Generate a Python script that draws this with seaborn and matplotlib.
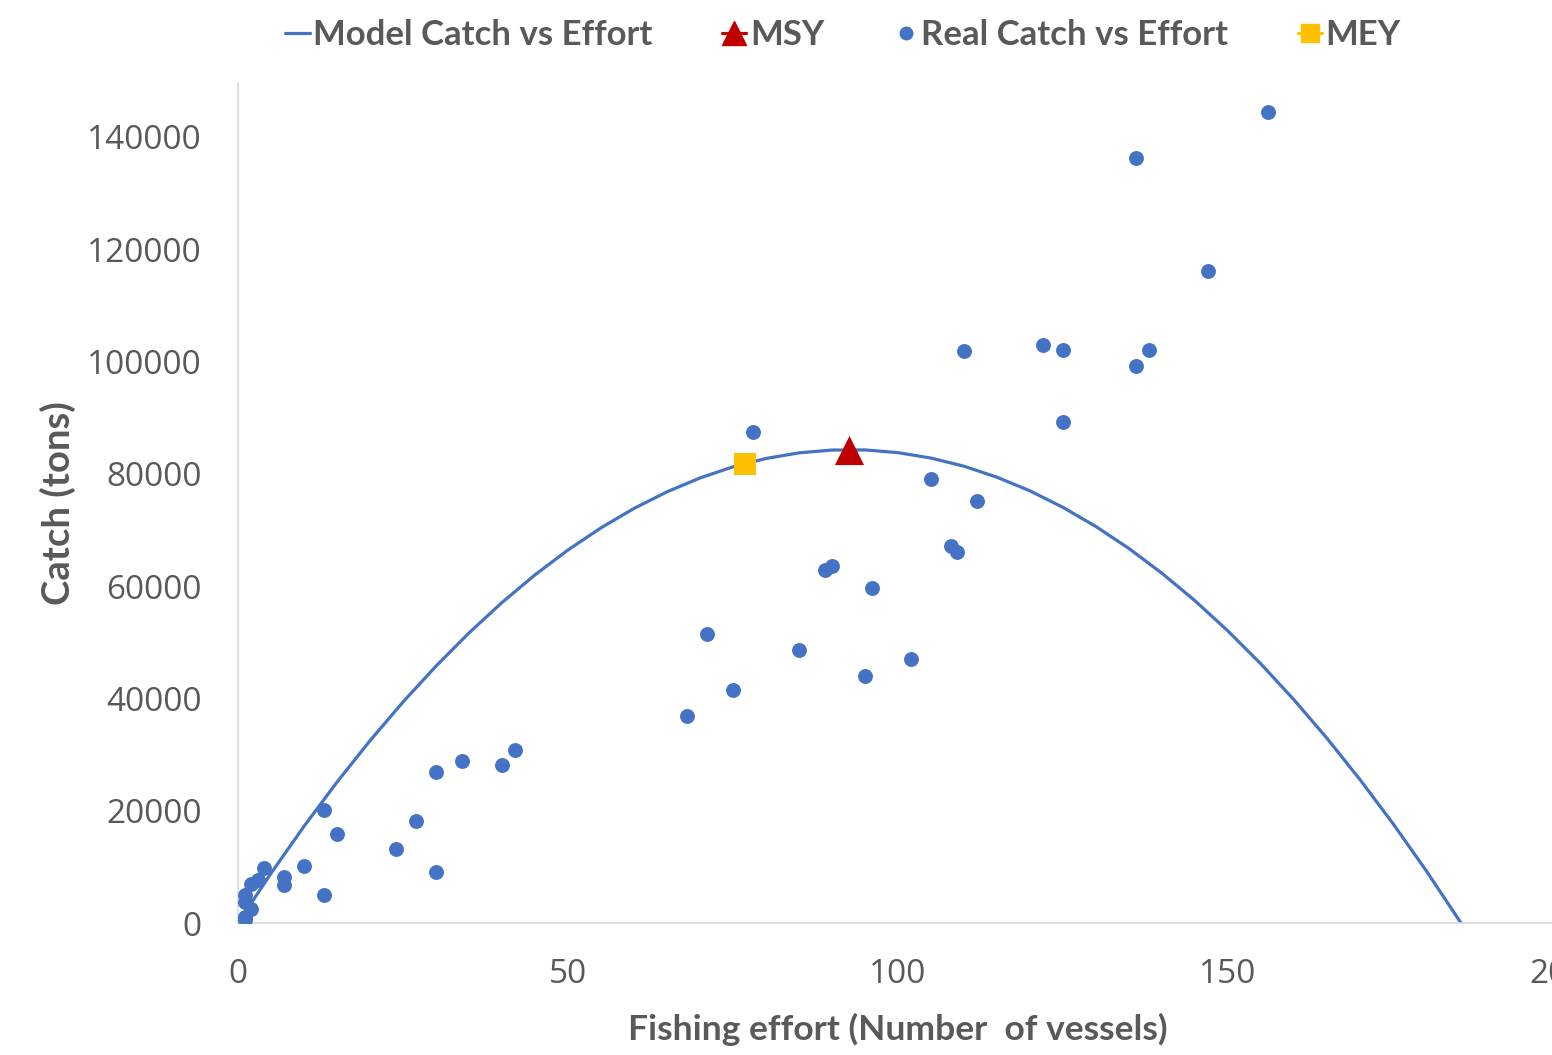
import matplotlib
matplotlib.use("Agg")
import matplotlib.pyplot as plt
from matplotlib.lines import Line2D
import seaborn as sns
import pandas as pd

# ---- data ----
real_effort = [1, 1, 2, 1, 1, 2, 3, 4, 7, 7, 10, 13, 13, 15, 24, 27, 30, 30, 34, 40, 42,
               68, 71, 75, 78, 85, 89, 90, 95, 96, 102, 105, 108, 109, 112,
               110, 122, 125, 125, 136, 138, 136, 147, 156]
real_catch = [500, 1100, 2500, 3700, 5000, 6900, 7700, 9800, 8200, 6800, 10200, 20100, 5000,
              15900, 13200, 18200, 9100, 26900, 28900, 28100, 30800,
              36900, 51500, 41500, 87400, 48600, 62900, 63600, 44000, 59700, 47000, 79100,
              67100, 66100, 75200, 101900, 102900, 102000, 89200, 99200, 102000, 136200,
              116100, 144400]

model_effort = [0, 5, 10, 15, 20, 25, 30, 35, 40, 45, 50, 55, 60, 65, 70, 75, 80, 85, 90,
                95, 100, 105, 110, 115, 120, 125, 130, 135, 140, 145, 150, 155, 160, 165,
                170, 175, 180, 185.3]
model_catch = [0, 8850, 17220, 25090, 32470, 39360, 45750, 51660, 57080, 62000, 66440, 70380,
               73830, 76790, 79260, 81240, 82730, 83730, 84230, 84250, 83770, 82800, 81350,
               79390, 76960, 74020, 70600, 66690, 62280, 57390, 52000, 46120, 39750, 32890,
               25540, 17700, 9370, 0]

msy_effort = [92.6]
msy_catch = [84200]
mey_effort = [76.8]
mey_catch = [81700]

x_ticks = [0, 50, 100, 150, 200]
y_ticks = [0, 20000, 40000, 60000, 80000, 100000, 120000, 140000]

legend_labels = ["Model Catch vs Effort", "MSY", "Real Catch vs Effort", "MEY"]

BLUE = "#4472C4"
RED = "#C00000"
GOLD = "#FFC000"
GRAY = "#595959"

sns.set_theme(style="white")
plt.rcParams["font.family"] = ["Open Sans", "DejaVu Sans"]

fig = plt.figure(figsize=(15.52, 10.55), dpi=100)
ax = fig.add_axes([238 / 1552, 1 - 923 / 1055, (1558 - 238) / 1552, (923 - 83) / 1055])

df_model = pd.DataFrame({"effort": model_effort, "catch": model_catch})
df_real = pd.DataFrame({"effort": real_effort, "catch": real_catch})

sns.lineplot(data=df_model, x="effort", y="catch", sort=False, color=BLUE, linewidth=2.3,
             ax=ax, legend=False)
sns.scatterplot(data=df_real, x="effort", y="catch", color=BLUE, s=115, linewidth=0,
                ax=ax, legend=False, zorder=3)
sns.scatterplot(x=mey_effort, y=mey_catch, color=GOLD, marker="s", s=260, linewidth=0,
                ax=ax, legend=False, zorder=4)
sns.scatterplot(x=msy_effort, y=msy_catch, color=RED, marker="^", s=440, linewidth=0,
                ax=ax, legend=False, zorder=4)

ax.set_xlim(0, 200)
ax.set_ylim(0, 149600)
ax.set_xticks(x_ticks)
ax.set_yticks(y_ticks)
ax.set_xticklabels([str(v) for v in x_ticks])
ax.set_yticklabels([str(v) for v in y_ticks])
ax.tick_params(axis="both", length=0, labelsize=24, labelcolor=GRAY)
ax.tick_params(axis="y", pad=26)
ax.tick_params(axis="x", pad=25)

for side in ["top", "right"]:
    ax.spines[side].set_visible(False)
for side in ["left", "bottom"]:
    ax.spines[side].set_color("#D9D9D9")
    ax.spines[side].set_linewidth(1.2)

ax.set_xlabel("Fishing effort (Number  of vessels)", fontsize=25.5, fontweight="bold",
              color=GRAY, family="Lato", labelpad=16)
ax.set_ylabel("Catch (tons)", fontsize=27.5, fontweight="bold", color=GRAY, family="Lato",
              labelpad=8)

handles = [
    Line2D([0], [0], color=BLUE, linewidth=2.3),
    Line2D([0], [0], color=RED, marker="^", markersize=17, linewidth=2.3),
    Line2D([0], [0], color=BLUE, marker="o", markersize=9, linestyle="none"),
    Line2D([0], [0], color=GOLD, marker="s", markersize=13, linewidth=2.3),
]
fig.legend(handles, legend_labels, loc="center", bbox_to_anchor=(843 / 1552, 1 - 35 / 1055),
           ncol=4, frameon=False, handlelength=0.7, handletextpad=0.1, columnspacing=2.0,
           prop={"family": "Lato", "weight": "bold", "size": 25}, labelcolor=GRAY)

fig.savefig("out.png", dpi=100)
